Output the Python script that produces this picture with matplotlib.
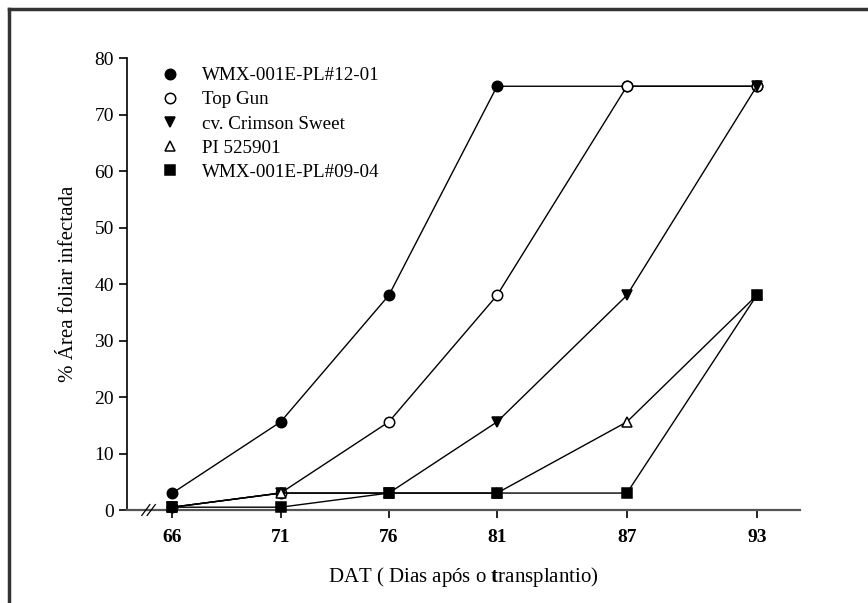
import matplotlib
matplotlib.use("Agg")
import matplotlib.pyplot as plt
from matplotlib.lines import Line2D

plt.rcParams["font.family"] = ["Liberation Serif", "DejaVu Serif"]
plt.rcParams["mathtext.fontset"] = "custom"
plt.rcParams["mathtext.rm"] = "Liberation Serif"
plt.rcParams["mathtext.bf"] = "Liberation Serif:bold"

# days after transplanting
days = [66, 71, 76, 81, 87, 93]

wmx_12_01 = [3, 15.6, 38, 75, 75, 75]
top_gun = [0.5, 3, 15.6, 38, 75, 75]
crimson = [0.5, 3, 3, 15.6, 38, 75]
pi_525901 = [0.5, 3, 3, 3, 15.6, 38]
wmx_09_04 = [0.5, 0.5, 3, 3, 3, 38]

labels = ["WMX-001E-PL#12-01", "Top Gun", "cv. Crimson Sweet",
          "PI 525901", "WMX-001E-PL#09-04"]
yticks = [0, 10, 20, 30, 40, 50, 60, 70, 80]

series = [
    (wmx_12_01, "o", "black"),
    (top_gun, "o", "white"),
    (crimson, "v", "black"),
    (pi_525901, "^", "white"),
    (wmx_09_04, "s", "black"),
]

fig = plt.figure(figsize=(8.68, 6.03), dpi=100)
ax = fig.add_axes([0.1463, 0.1542, 0.7754, 0.7496])

for (vals, mk, fc), lab in zip(series, labels):
    ax.plot(days, vals, color="black", lw=1.0, marker=mk, ms=7.5,
            mfc=fc, mec="black", mew=1.1, clip_on=False, zorder=3)

ax.set_xlim(63.9, 95)
ax.set_ylim(0, 80)
ax.set_xticks(days)
ax.set_xticklabels([str(d) for d in days], fontweight="bold", fontsize=14)
ax.set_yticks(yticks)
ax.set_yticklabels([str(t) for t in yticks], fontsize=14)
ax.tick_params(axis="both", direction="out", length=6, width=1.2, color="black")
ax.tick_params(axis="x", pad=8)

for s in ["top", "right"]:
    ax.spines[s].set_visible(False)
ax.spines["left"].set_linewidth(1.2)
ax.spines["bottom"].set_linewidth(1.6)
ax.spines["bottom"].set_color("#555555")

# axis break marks
for dx in (0.0, 0.008):
    ax.plot([0.022 + dx, 0.034 + dx], [-0.012, 0.012], transform=ax.transAxes,
            color="black", lw=0.9, clip_on=False, zorder=4)

ax.set_ylabel("% Área foliar infectada", fontsize=15, labelpad=12)
ax.set_xlabel(r"DAT ( Dias após o $\mathbf{t}$ransplantio)", fontsize=15,
              labelpad=13)

# legend built by hand to match the original spacing
handles = [Line2D([], [], ls="none", marker=mk, ms=7.5, mfc=fc, mec="black",
                  mew=1.1) for _, mk, fc in series]
ax.legend(handles, labels, loc="upper left", bbox_to_anchor=(0.035, 0.997),
          frameon=False, fontsize=13.7, handletextpad=1.1, labelspacing=0.36,
          handlelength=1.2, borderaxespad=0)

# outer frame (top and left only visible)
fig.add_artist(Line2D([0.0105, 1.0], [0.985, 0.985], transform=fig.transFigure,
                      color="#333333", lw=2.5))
fig.add_artist(Line2D([0.0105, 0.0105], [0.0, 0.985], transform=fig.transFigure,
                      color="#333333", lw=2.5))

fig.savefig("out.png", dpi=100)
